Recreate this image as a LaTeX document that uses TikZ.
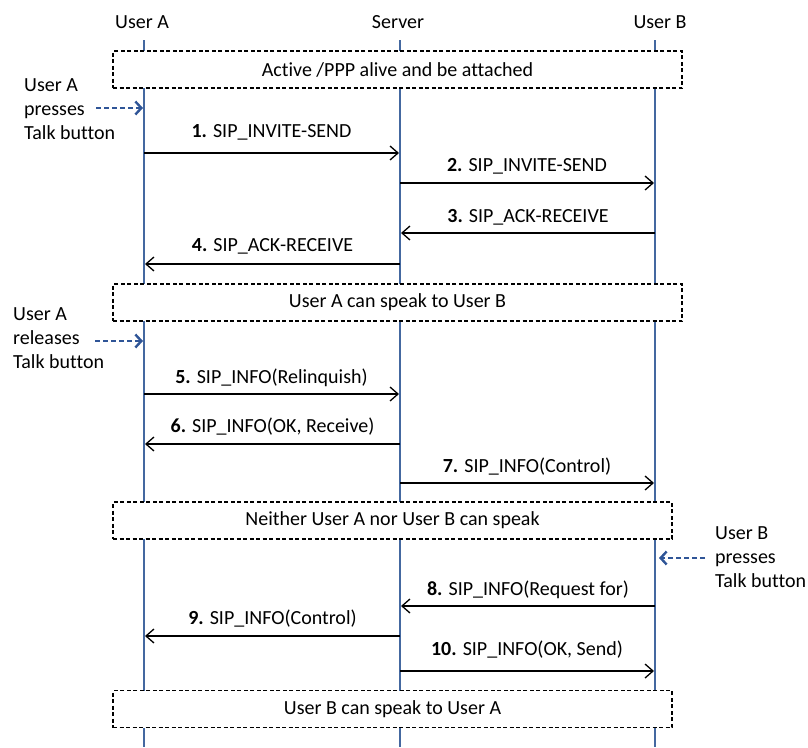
\documentclass[tikz,border=0pt]{standalone}
\usepackage{fontspec}
\setmainfont{Carlito}[Ligatures=NoCommon]
\usetikzlibrary{arrows.meta,calc}
\definecolor{lifeblue}{RGB}{68,104,160}
\definecolor{noteblue}{RGB}{47,85,151}
\tikzset{
  lifeline/.style={draw=lifeblue, line width=1.5pt},
  phase/.style={draw=black, fill=white, dash pattern=on 4pt off 2.5pt, line width=1.4pt,
    minimum height=37pt, inner sep=0pt},
  msg/.style={draw=black, line width=1.3pt,
    -{Straight Barb[length=8pt,width=14pt,line width=1.3pt]}},
  msglabel/.style={anchor=base, inner sep=0pt},
  note/.style={align=left, anchor=north west, inner sep=0pt},
  press/.style={draw=noteblue, line width=2.4pt, dash pattern=on 5pt off 3pt,
    -{Straight Barb[length=6pt,width=13pt,line width=2.4pt]}},
  actor/.style={anchor=base, inner sep=0pt},
}
\begin{document}
\begin{tikzpicture}[x=1pt,y=-1pt,every node/.style={font=\fontsize{20}{24}\selectfont}]
\useasboundingbox (0,0) rectangle (808,747);

% actors
\node[actor] (hA) at (142,28) {User A};
\node[actor] (hS) at (398,28) {Server};
\node[actor] (hB) at (660,28) {User B};

% lifelines
\coordinate (At) at (144,40);  \coordinate (Ab) at (144,747);
\coordinate (St) at (400,40);  \coordinate (Sb) at (400,747);
\coordinate (Bt) at (655,40);  \coordinate (Bb) at (655,747);
\draw[lifeline] (At) -- (Ab);
\draw[lifeline] (St) -- (Sb);
\draw[lifeline] (Bt) -- (Bb);

% phase boxes
\node[phase, minimum width=569pt] (p1) at (397.5,69.5) {Active /PPP alive and be attached};
\node[phase, minimum width=569pt] (p2) at (397.5,302.5) {User A can speak to User B};
\node[phase, minimum width=559pt] (p3) at (392.5,520.5) {Neither User A nor User B can speak};
\node[phase, minimum width=559pt] (p4) at (392.5,709) {User B can speak to User A};

% button notes
\node[note] (n1) at (24,78) {User A\\presses\\Talk button};
\node[note] (n2) at (13,307) {User A\\releases\\Talk button};
\node[note] (n3) at (715,526) {User B\\presses\\Talk button};
\coordinate (n1s) at (96,108);  \coordinate (n1e) at (143,108);
\coordinate (n2s) at (95,341);  \coordinate (n2e) at (143,341);
\coordinate (n3s) at (705,558); \coordinate (n3e) at (659,558);
\draw[press] (n1s) -- (n1e);
\draw[press] (n2s) -- (n2e);
\draw[press] (n3s) -- (n3e);

% messages: \sipmsg{from x}{to x}{y}{label baseline}{number}{text}
\newcommand{\sipmsg}[6]{%
  \coordinate (m#5s) at (#1,#3);
  \coordinate (m#5e) at (#2,#3);
  \draw[msg] (m#5s) -- (m#5e);
  \node[msglabel] (l#5) at ($(m#5s)!0.5!(m#5e)+(0,#4-#3)$) {\textbf{#5.} #6};
}
\sipmsg{144}{399}{153}{137}{1}{SIP\_INVITE-SEND}
\sipmsg{400}{654}{183}{171}{2}{SIP\_INVITE-SEND}
\sipmsg{655}{401}{233}{222}{3}{SIP\_ACK-RECEIVE}
\sipmsg{400}{145}{264}{251}{4}{SIP\_ACK-RECEIVE}
\sipmsg{144}{399}{394}{383}{5}{SIP\_INFO(Relinquish)}
\sipmsg{400}{145}{444}{432}{6}{SIP\_INFO(OK, Receive)}
\sipmsg{400}{654}{483}{472}{7}{SIP\_INFO(Control)}
\sipmsg{655}{401}{606}{595}{8}{SIP\_INFO(Request for)}
\sipmsg{400}{145}{636}{624}{9}{SIP\_INFO(Control)}
\sipmsg{400}{654}{671}{655}{10}{SIP\_INFO(OK, Send)}
\end{tikzpicture}
\end{document}
